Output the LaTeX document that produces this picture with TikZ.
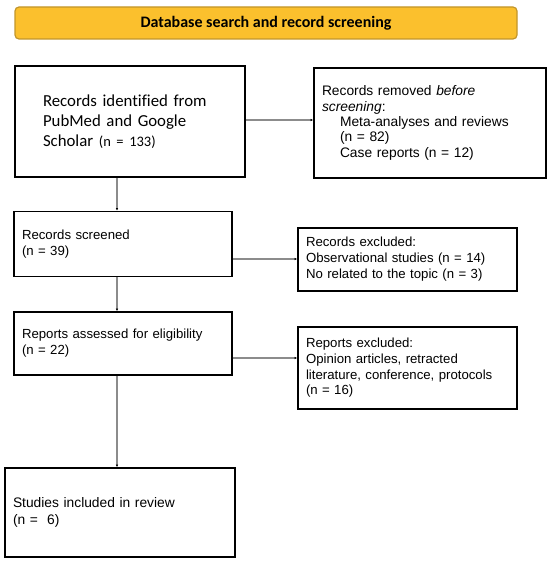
\documentclass[tikz,border=0pt]{standalone}
\usepackage{fontspec}
\setmainfont{Liberation Sans}
\newfontfamily\calfont{Carlito}[Ligatures=NoCommon]
\usetikzlibrary{arrows.meta}
\definecolor{hdrfill}{HTML}{FBC02D}
\definecolor{hdrline}{HTML}{C2952A}
\definecolor{conncol}{HTML}{8C8C8C}
\begin{document}
\begin{tikzpicture}[x=1pt,y=-1pt,
  box/.style={draw=black, line width=1.6pt, fill=white, align=left, inner ysep=0pt, inner xsep=8pt,
    font=\fontsize{13.2}{16}\selectfont},
  conn/.style={draw=conncol, line width=1.3pt, -{Latex[length=2.5pt,width=2.5pt,black]}},
  header/.style={draw=hdrline, line width=1.2pt, fill=hdrfill, rounded corners=4pt,
    minimum width=502pt, minimum height=32pt, inner sep=0pt, font=\calfont\bfseries\fontsize{16}{20}\selectfont}
]
\useasboundingbox (0,0) rectangle (550,564);

\node[header] (hdr) at (266,23) {Database search and record screening};

\node[box, inner xsep=28pt, minimum width=230pt, text width=174pt, minimum height=111pt,
  font=\calfont\fontsize{16.8}{20}\selectfont] (b1) at (130,121.5)
  {Records identified from\\PubMed and Google\\Scholar {\fontsize{14.5}{20}\selectfont (n = 133)}};

\node[box, minimum width=232pt, text width=216pt, minimum height=110pt,
  font=\fontsize{13.8}{15.4}\selectfont] (b2) at (430,123)
  {Records removed \textit{before}\\\textit{screening}:\\
   \hspace*{18pt}Meta-analyses and reviews\\
   \hspace*{18pt}(n = 82)\\
   \hspace*{18pt}Case reports (n = 12)};

\node[box, minimum width=218pt, text width=202pt, minimum height=65pt] (b3) at (123,244)
  {Records screened\\(n = 39)};

\node[box, minimum width=219pt, text width=203pt, minimum height=63pt] (b4) at (407.5,259.5)
  {Records excluded:\\Observational studies (n = 14)\\No related to the topic (n = 3)};

\node[box, minimum width=218pt, text width=202pt, minimum height=63pt] (b5) at (123,343.5)
  {Reports assessed for eligibility\\(n = 22)};

\node[box, minimum width=219pt, text width=203pt, minimum height=82pt,
  font=\fontsize{13.2}{15.7}\selectfont] (b6) at (407.5,368)
  {Reports excluded:\\Opinion articles, retracted\\literature, conference, protocols\\(n = 16)};

\node[box, minimum width=230pt, text width=214pt, minimum height=89pt,
  font=\fontsize{13.8}{16.5}\selectfont] (b7) at (120,512.5)
  {Studies included in review\\(n =\ \ 6)};

\coordinate (vx) at (117,0);
\coordinate (h1) at (0,120);
\coordinate (h2) at (0,259);
\coordinate (h3) at (0,358);

\draw[conn] (b1.east |- h1) -- (b2.west |- h1);
\draw[conn] (b3.east |- h2) -- (b4.west |- h2);
\draw[conn] (b5.east |- h3) -- (b6.west |- h3);
\draw[conn] (b1.south -| vx) -- (b3.north -| vx);
\draw[conn] (b3.south -| vx) -- (b5.north -| vx);
\draw[conn] (b5.south -| vx) -- (b7.north -| vx);
\end{tikzpicture}
\end{document}
